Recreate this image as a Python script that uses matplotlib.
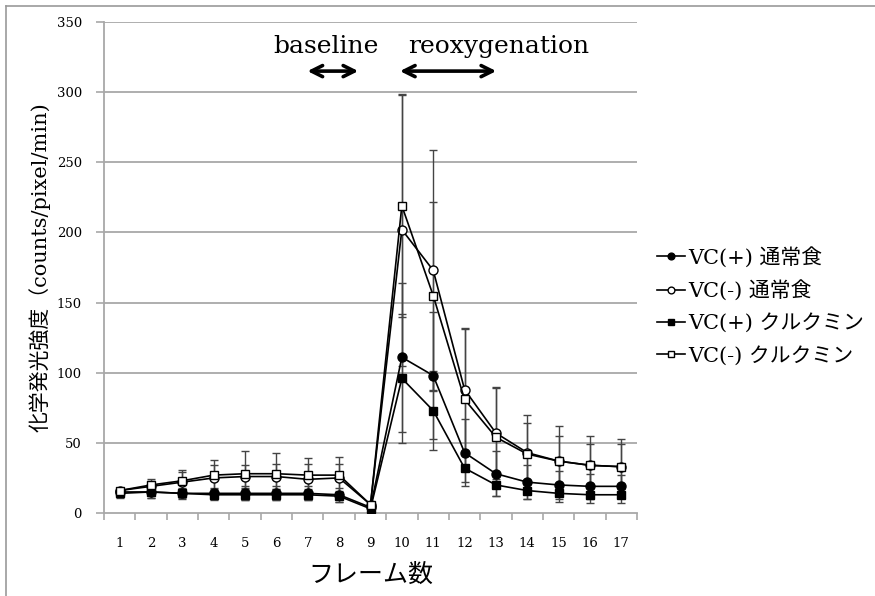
import matplotlib
matplotlib.use("Agg")
import matplotlib.pyplot as plt
from matplotlib.lines import Line2D
import numpy as np

plt.rcParams['font.family'] = ['DejaVu Serif', 'Noto Sans CJK JP']

frames = list(range(1, 18))

# VC(+) 通常食
vc_plus_normal = [15, 15, 14, 14, 14, 14, 14, 13, 4, 111, 98, 43, 28, 22, 20, 19, 19]
vc_plus_normal_err = [3, 4, 4, 4, 5, 5, 5, 5, 2, 53, 45, 24, 16, 12, 10, 9, 8]
# VC(-) 通常食
vc_minus_normal = [16, 19, 22, 25, 26, 26, 24, 25, 6, 202, 173, 88, 57, 43, 37, 34, 33]
vc_minus_normal_err = [2, 4, 7, 9, 8, 9, 11, 10, 2, 97, 86, 44, 33, 21, 18, 15, 16]
# VC(+) クルクミン
vc_plus_curcumin = [14, 15, 14, 13, 13, 13, 13, 12, 3, 96, 73, 32, 20, 16, 14, 13, 13]
vc_plus_curcumin_err = [3, 4, 3, 4, 4, 4, 4, 4, 2, 46, 28, 10, 8, 6, 6, 6, 6]
# VC(-) クルクミン
vc_minus_curcumin = [16, 20, 23, 27, 28, 28, 27, 27, 6, 219, 155, 81, 54, 42, 37, 34, 33]
vc_minus_curcumin_err = [2, 4, 8, 11, 16, 15, 12, 13, 2, 79, 67, 50, 35, 28, 25, 21, 20]

labels = ["VC(+) 通常食", "VC(-) 通常食", "VC(+) クルクミン", "VC(-) クルクミン"]

fig = plt.figure(figsize=(8.75, 5.96), dpi=100)
ax = fig.add_axes([104 / 875, 83 / 596, 533 / 875, 491 / 596])

grid_c = "#a8a8a8"
series = [
    (vc_plus_normal, vc_plus_normal_err, "o", "black"),
    (vc_minus_normal, vc_minus_normal_err, "o", "white"),
    (vc_plus_curcumin, vc_plus_curcumin_err, "s", "black"),
    (vc_minus_curcumin, vc_minus_curcumin_err, "s", "white"),
]
handles = []
for (vals, err, mk, fc), lab in zip(series, labels):
    ax.errorbar(frames, vals, yerr=err, fmt="none", ecolor="#444444",
                elinewidth=1.0, capsize=3, capthick=1.0, zorder=3)
    ln, = ax.plot(frames, vals, color="black", lw=1.2, marker=mk,
                  markersize=6.5 if mk == "o" else 6, markerfacecolor=fc,
                  markeredgecolor="black", markeredgewidth=1.0, zorder=4, label=lab)
    handles.append(ln)

ax.set_xlim(0.5, 17.5)
ax.set_ylim(0, 350)
ax.set_yticks(np.arange(0, 351, 50))
for yv in np.arange(50, 351, 50):
    ax.axhline(yv, color=grid_c, lw=1.3, zorder=0)

ax.set_xticks(np.arange(0.5, 17.6, 1))
ax.set_xticks(frames, minor=True)
ax.set_xticklabels([])
ax.set_xticklabels([str(f) for f in frames], minor=True)
ax.tick_params(axis="x", which="major", direction="out", length=5, color=grid_c, width=1.2)
ax.tick_params(axis="x", which="minor", length=0, pad=17, labelsize=9.5)
ax.tick_params(axis="y", direction="out", length=6, color=grid_c, width=1.2, pad=10, labelsize=9.5)

for s in ["top", "right"]:
    ax.spines[s].set_visible(False)
for s in ["left", "bottom"]:
    ax.spines[s].set_color(grid_c)
    ax.spines[s].set_linewidth(1.3)

ax.set_xlabel("フレーム数", fontsize=18, labelpad=10)
ax.set_ylabel("化学発光強度（counts/pixel/min)", fontsize=15, labelpad=4)

# period annotations
ax.text(7.58, 324, "baseline", ha="center", va="bottom", fontsize=18)
ax.text(13.09, 324, "reoxygenation", ha="center", va="bottom", fontsize=18)
arrow_kw = dict(arrowstyle="<->", color="black", lw=2.6, mutation_scale=20)
ax.annotate("", xy=(6.9, 315), xytext=(8.7, 315), arrowprops=arrow_kw)
ax.annotate("", xy=(9.85, 315), xytext=(13.1, 315), arrowprops=arrow_kw)

fig.legend(handles=handles, labels=labels, loc="center left",
           bbox_to_anchor=(638 / 875, 1 - 306 / 596), frameon=False,
           fontsize=15, handlelength=1.35, handletextpad=0.15,
           labelspacing=0.6, markerscale=0.75)

# outer frame
fig.add_artist(Line2D([6 / 875, 6 / 875], [0, 1 - 6 / 596], color="#999999", lw=1.2))
fig.add_artist(Line2D([6 / 875, 1], [1 - 6 / 596, 1 - 6 / 596], color="#999999", lw=1.2))

fig.savefig("out.png", dpi=100)
